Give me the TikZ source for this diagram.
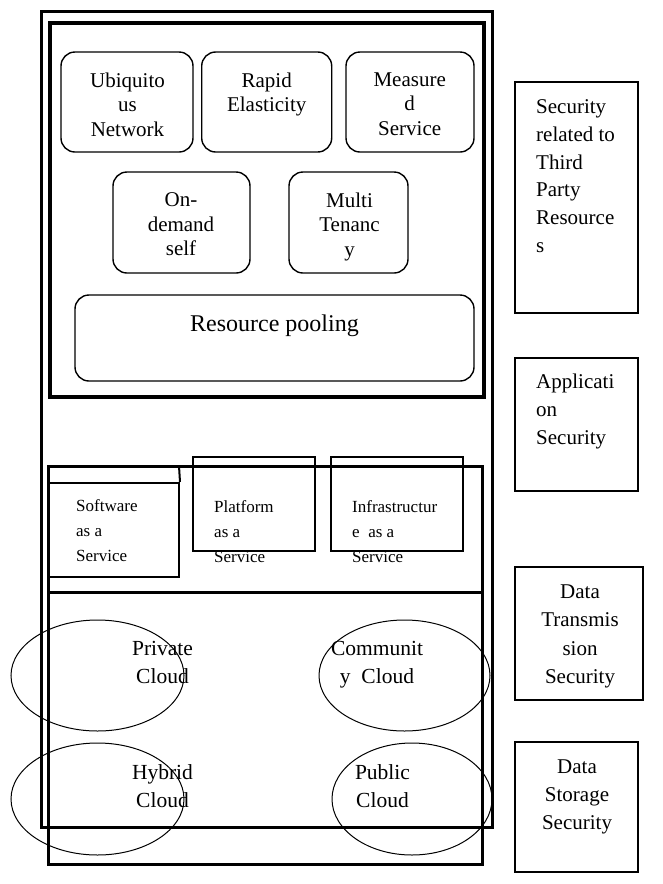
\documentclass[tikz,border=0pt]{standalone}
\usepackage{fontspec}
\setmainfont{Liberation Serif}
\usetikzlibrary{shapes.geometric}
\begin{document}
\begin{tikzpicture}[x=1pt,y=-1pt,
  rbox/.style={draw,rounded corners=14pt,line width=1.4pt,inner sep=0pt},
  sbox/.style={draw,line width=1.4pt,inner sep=0pt},
  cloud/.style={draw,ellipse,line width=1pt,inner sep=0pt},
  frame/.style={draw,line width=3pt},
  txt/.style={font=\fontsize{21}{24.5}\selectfont,inner sep=0pt,align=center,anchor=north},
  pooltxt/.style={font=\fontsize{24}{28}\selectfont,inner sep=0pt,anchor=base},
  svctxt/.style={font=\fontsize{17}{25}\selectfont,inner sep=0pt,align=left,anchor=north west},
  cloudtxt/.style={font=\fontsize{21.5}{28}\selectfont,inner sep=0pt,align=center,anchor=north},
  sectxt/.style={font=\fontsize{21}{27.7}\selectfont,inner sep=0pt,anchor=north},
]
\useasboundingbox (0,0) rectangle (662,884);
% containers
\draw[frame] (41,11) rectangle (492,827);
\draw[draw,line width=4pt] (50,23) rectangle (484,397);
\draw[frame] (47,466) -- (482,466) -- (482,864) -- (48,864) -- (48,466);
\draw[frame] (48,592) -- (482,592);
% top characteristic boxes
\node[rbox,minimum width=132pt,minimum height=100pt] (ubi) at (127,102) {};
\node[txt] (ubit) at (127.5,72.5) {Ubiquito\\us\\Network};
\node[rbox,minimum width=130pt,minimum height=100pt] (rapid) at (266.7,102) {};
\node[txt] (rapidt) at (266.7,72.5) {Rapid\\Elasticity};
\node[rbox,minimum width=128pt,minimum height=100pt] (meas) at (410,102) {};
\node[txt] (meast) at (409.7,72.5) {Measure\\d\\Service};
\node[rbox,minimum width=137pt,minimum height=101pt] (ond) at (181.5,222.5) {};
\node[txt] (ondt) at (181,192.5) {On-\\demand\\self};
\node[rbox,minimum width=119pt,minimum height=101pt] (multi) at (348.5,222.5) {};
\node[txt] (multit) at (349.5,192.5) {Multi\\Tenanc\\y};
\node[rbox,minimum width=399pt,minimum height=86pt] (pool) at (274.5,338) {};
\node[pooltxt] (poolt) at (274.5,331) {Resource pooling};
% service models
\node[draw,line width=2pt,inner sep=0pt,minimum width=131pt,minimum height=94pt] (saas) at (113.5,530) {};
\draw[line width=2pt] (179,466) -- (saas.north east);
\node[svctxt] (saast) at (76,499) {Software\\as a\\Service};
\node[sbox,minimum width=122pt,minimum height=94pt] (paas) at (254,504) {};
\node[svctxt] (paast) at (214,500) {Platform\\as a\\Service};
\node[sbox,minimum width=132pt,minimum height=94pt] (iaas) at (397,504) {};
\node[svctxt] (iaast) at (352,500) {Infrastructur\\e\ \ as a\\Service};
% deployment models
\node[cloud,minimum width=173pt,minimum height=111pt] (priv) at (97.5,675.5) {};
\node[cloudtxt] (privt) at (162.5,641) {Private\\Cloud};
\node[cloud,minimum width=171pt,minimum height=111pt] (comm) at (404.5,675.5) {};
\node[cloudtxt] (commt) at (377,641) {Communit\\y\ \ Cloud};
\node[cloud,minimum width=173pt,minimum height=112pt] (hyb) at (97.5,799) {};
\node[cloudtxt] (hybt) at (162.5,764.5) {Hybrid\\Cloud};
\node[cloud,minimum width=160pt,minimum height=112pt] (pub) at (412,799) {};
\node[cloudtxt] (pubt) at (382.5,764.5) {Public\\Cloud};
% security boxes
\node[sbox,minimum width=123pt,minimum height=231pt] (sec1) at (576.5,197.5) {};
\node[sectxt,align=left,anchor=north west] (sec1t) at (536,99.5) {Security\\related to\\Third\\Party\\Resource\\s};
\node[sbox,minimum width=123pt,minimum height=133pt] (sec2) at (576.5,424.5) {};
\node[sectxt,align=left,anchor=north west,font=\fontsize{21}{28}\selectfont] (sec2t) at (536,373.5) {Applicati\\on\\Security};
\node[sbox,minimum width=128pt,minimum height=133pt] (sec3) at (579,633.5) {};
\node[sectxt,align=center,font=\fontsize{21}{28.3}\selectfont] (sec3t) at (580,584.5) {Data\\Transmis\\sion\\Security};
\node[sbox,minimum width=123pt,minimum height=130pt] (sec4) at (576.5,807) {};
\node[sectxt,align=center,font=\fontsize{21}{28}\selectfont] (sec4t) at (577,759.5) {Data\\Storage\\Security};
\end{tikzpicture}
\end{document}
